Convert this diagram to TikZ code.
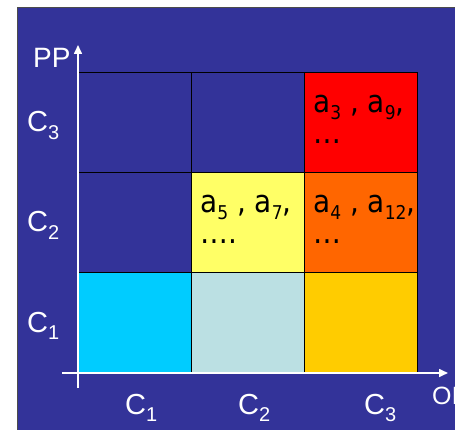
\documentclass[tikz,border=0pt]{standalone}
\usepackage{fontspec}
\setmainfont{Liberation Sans}
\newfontfamily\cellfont{DejaVu Sans Condensed}
\usetikzlibrary{arrows.meta}
\definecolor{bgblue}{RGB}{51,51,153}
\definecolor{cred}{RGB}{255,0,0}
\definecolor{cyellow}{RGB}{255,255,102}
\definecolor{corange}{RGB}{255,102,0}
\definecolor{ccyan}{RGB}{0,204,255}
\definecolor{cpale}{RGB}{187,224,227}
\definecolor{cgold}{RGB}{255,204,0}
\newcommand\lsub[1]{\raisebox{-0.25em}{\fontsize{20}{20}\selectfont #1}}
\newcommand\csub[1]{\raisebox{-0.22em}{\fontsize{19}{19}\selectfont #1}}
\tikzset{
  cellbox/.style={draw=black, line width=0.8pt, minimum width=113pt, minimum height=100pt, inner sep=0pt, outer sep=0pt},
  axlabel/.style={text=white, font=\fontsize{29}{29}\selectfont, inner sep=0pt},
  celltext/.style={text=black, font=\cellfont\fontsize{31}{31}\selectfont, inner sep=0pt, align=left, anchor=north west},
  axis/.style={draw=white, line width=1.6pt, -{Triangle[length=9pt,width=8pt]}}
}
\begin{document}
\begin{tikzpicture}[x=1pt,y=-1pt]
\useasboundingbox (0,0) rectangle (455,430);
\fill[white] (0,0) rectangle (455,430);
\fill[bgblue] (17,7) rectangle (455,430);
\draw[gray!60!black, line width=0.8pt] (17,430) -- (17,7) -- (455,7);
% cells (row 3 top)
\node[cellbox, fill=bgblue] (r3c1) at (134.5,122) {};
\node[cellbox, fill=bgblue] (r3c2) at (247.5,122) {};
\node[cellbox, fill=cred] (r3c3) at (360.5,122) {};
\node[cellbox, fill=bgblue] (r2c1) at (134.5,222) {};
\node[cellbox, fill=cyellow] (r2c2) at (247.5,222) {};
\node[cellbox, fill=corange] (r2c3) at (360.5,222) {};
\node[cellbox, fill=ccyan] (r1c1) at (134.5,322) {};
\node[cellbox, fill=cpale] (r1c2) at (247.5,322) {};
\node[cellbox, fill=cgold] (r1c3) at (360.5,322) {};
% cell texts
\node[celltext] (t33) at ([xshift=9pt,yshift=-23pt]r3c3.north west) {a\csub{3} , a\csub{9},\\…};
\node[celltext] (t22) at ([xshift=9pt,yshift=-23pt]r2c2.north west) {a\csub{5} , a\csub{7},\\….};
\node[celltext] (t23) at ([xshift=9pt,yshift=-23pt]r2c3.north west) {a\csub{4} , a\csub{12},\\…};
% axes
\coordinate (yb) at (78,388);
\coordinate (yt) at (78,45);
\coordinate (xl) at (62,373);
\coordinate (xr) at (448,373);
\draw[axis] (yb) -- (yt);
\draw[axis] (xl) -- (xr);
% axis labels
\node[axlabel, anchor=base west, font=\fontsize{28}{28}\selectfont] (pp) at (33,68) {PP};
\node[axlabel, anchor=base west, font=\fontsize{25}{25}\selectfont] (oi) at (432,404) {OI};
\node[axlabel, anchor=base west] (y3) at (27,132) {C\lsub{3}};
\node[axlabel, anchor=base west] (y2) at (27,232) {C\lsub{2}};
\node[axlabel, anchor=base west] (y1) at (27,332) {C\lsub{1}};
\node[axlabel, anchor=base west] (x1) at (125,414) {C\lsub{1}};
\node[axlabel, anchor=base west] (x2) at (238,414) {C\lsub{2}};
\node[axlabel, anchor=base west] (x3) at (364,414) {C\lsub{3}};
\end{tikzpicture}
\end{document}
